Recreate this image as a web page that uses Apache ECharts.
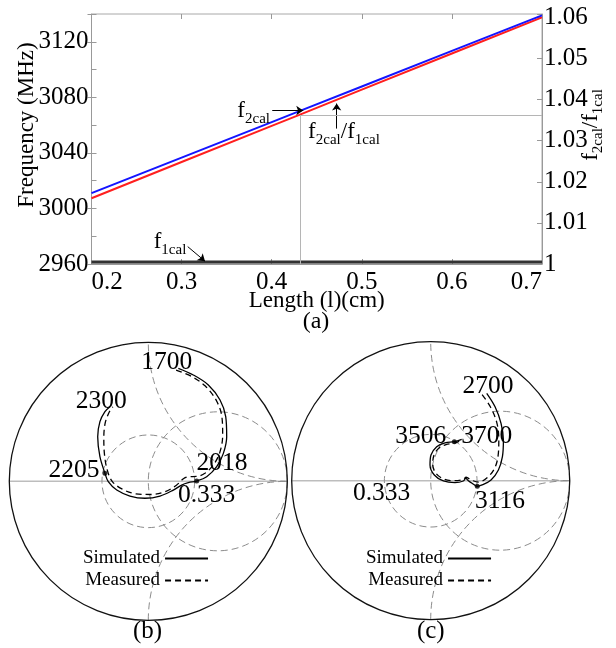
<!DOCTYPE html>
<html>
<head>
<meta charset="utf-8">
<script src="https://cdn.jsdelivr.net/npm/echarts@6/dist/echarts.min.js"></script>
<style>html,body{margin:0;padding:0;background:#fff}#c{width:616px;height:648px}</style>
</head>
<body>
<div id="c"></div>
<script>
// ---------- (a) data ----------
const lengthCm = [0.2, 0.3, 0.4, 0.43, 0.5, 0.6, 0.7];
const f2calMHz = [3011, 3036.6, 3062.2, 3069.9, 3087.8, 3113.4, 3139];
const ratioF2F1 = [1.0160, 1.0248, 1.0336, 1.0362, 1.0424, 1.0512, 1.0600];
const f1calMHz = [2961.5, 2961.5, 2961.5, 2961.5, 2961.5, 2961.5, 2961.5];
const refLength = 0.4314;
const refRatio = 1.0362;
const leftTicks = [2960, 3000, 3040, 3080, 3120];
const rightTicks = ['1', '1.01', '1.02', '1.03', '1.04', '1.05', '1.06'];

// ---------- (b) reflection coefficient (Re, Im) ----------
const simB = [[0.216,0.813],[0.324,0.765],[0.432,0.693],[0.516,0.585],[0.557,0.465],[0.564,0.321],[0.540,0.201],[0.492,0.105],[0.420,0.033],[0.348,0.002],[0.288,-0.010],[0.240,-0.027],[0.180,-0.063],[0.084,-0.106],[-0.024,-0.122],[-0.132,-0.106],[-0.227,-0.063],[-0.288,-0.003],[-0.312,0.058],[-0.348,0.177],[-0.364,0.321],[-0.348,0.429],[-0.312,0.501],[-0.276,0.537]];
const measB = [[0.200,0.800],[0.310,0.755],[0.410,0.685],[0.490,0.580],[0.530,0.460],[0.535,0.330],[0.515,0.210],[0.470,0.120],[0.410,0.060],[0.350,0.035],[0.290,0.033],[0.255,0.020],[0.200,-0.030],[0.120,-0.075],[0.020,-0.095],[-0.090,-0.090],[-0.190,-0.055],[-0.260,0.000],[-0.295,0.080],[-0.315,0.190],[-0.320,0.310],[-0.310,0.420],[-0.280,0.500],[-0.255,0.535]];
const dotsB = [[0.348,0.002],[-0.312,0.058]];
const labelsB = ['1700', '2300', '2205', '2018', '0.333'];

// ---------- (c) reflection coefficient (Re, Im) ----------
const simC = [[0.403,0.629],[0.463,0.532],[0.506,0.413],[0.523,0.293],[0.516,0.173],[0.487,0.077],[0.434,0.005],[0.370,-0.030],[0.335,-0.040],[0.300,-0.020],[0.271,0.000],[0.252,0.017],[0.235,-0.002],[0.175,-0.014],[0.091,-0.002],[0.026,0.041],[-0.005,0.113],[0.002,0.185],[0.043,0.245],[0.103,0.273],[0.170,0.281],[0.223,0.298]];
const measC = [[0.370,0.620],[0.430,0.530],[0.475,0.420],[0.490,0.300],[0.485,0.180],[0.460,0.090],[0.410,0.025],[0.345,-0.010],[0.290,0.005],[0.255,0.025],[0.235,0.010],[0.175,0.000],[0.100,0.010],[0.040,0.050],[0.015,0.115],[0.022,0.180],[0.060,0.235],[0.110,0.260],[0.165,0.270],[0.210,0.285]];
const dotsC = [[0.335,-0.040],[0.170,0.281]];
const labelsC = ['2700', '3506', '3700', '0.333', '3116'];

// Smith chart reference grid (constant-|Γ| 1/3 circle, r = 1 circle, x = ±1 arcs)
const smithGrid = [
  {kind: 'line', p: [[-1, 0], [1, 0]], st: 'axis'},
  {kind: 'circle', c: [0, 0], r: 1 / 3, st: 'dash'},
  {kind: 'circle', c: [0.5, 0], r: 0.5, st: 'dash'},
  {kind: 'arc', c: [1, 1], r: 1, a: [Math.PI / 2, Math.PI], st: 'dash'},
  {kind: 'arc', c: [1, -1], r: 1, a: [Math.PI, 1.5 * Math.PI], st: 'dash'},
  {kind: 'circle', c: [0, 0], r: 1, st: 'outer'}
];

const SERIF = '"Liberation Serif", "Times New Roman", serif';
const zip = (xs, ys) => xs.map((x, i) => [x, ys[i]]);

const subRich = {
  f: {fontSize: 23, fontFamily: SERIF, color: '#000', verticalAlign: 'bottom', padding: [0, 0, 4, 0]},
  s: {fontSize: 15, fontFamily: SERIF, color: '#000', verticalAlign: 'bottom'}
};

function renderSmithGrid(params, api) {
  const g = smithGrid[params.dataIndex];
  const styles = {
    outer: {stroke: '#111', lineWidth: 1.3, fill: 'none'},
    dash: {stroke: '#8c8c8c', lineWidth: 1, lineDash: [7, 4], fill: 'none'},
    axis: {stroke: '#bdbdbd', lineWidth: 1.5, fill: 'none'}
  };
  const style = styles[g.st];
  if (g.kind === 'line') {
    const a = api.coord(g.p[0]), b = api.coord(g.p[1]);
    return {type: 'line', shape: {x1: a[0], y1: a[1], x2: b[0], y2: b[1]}, style: style};
  }
  const c = api.coord(g.c);
  const r = api.size([g.r, g.r])[0];
  if (g.kind === 'circle') {
    return {type: 'circle', shape: {cx: c[0], cy: c[1], r: r}, style: style};
  }
  return {type: 'arc', shape: {cx: c[0], cy: c[1], r: r, startAngle: g.a[0], endAngle: g.a[1], clockwise: true}, style: style};
}

function textPoint(txt, coord) {
  return {coord: coord, value: txt, label: {formatter: txt}};
}

const freqLabelStyle = {show: true, position: 'inside', color: '#000', fontSize: 25.5, fontFamily: SERIF};
const legendBase = {data: ['Simulated', 'Measured'], orient: 'vertical', align: 'right', top: 549, padding: 0,
  itemWidth: 43, itemHeight: 1, itemGap: 3, selectedMode: false, itemStyle: {opacity: 0},
  textStyle: {color: '#000', fontSize: 19, fontFamily: SERIF, lineHeight: 19}};

const chart = echarts.init(document.getElementById('c'), null, {renderer: 'canvas'});
const option = {
  animation: false,
  backgroundColor: '#fff',
  textStyle: {fontFamily: SERIF},
  grid: [
    {left: 91.5, top: 14, width: 450.5, height: 250, show: true, borderColor: '#a8a8a8', borderWidth: 1, backgroundColor: 'transparent'},
    {left: 9.3, top: 342.3, width: 278, height: 278},
    {left: 291.7, top: 341.7, width: 278, height: 278}
  ],
  xAxis: [
    {gridIndex: 0, type: 'value', min: 0.2, max: 0.7, interval: 0.1,
      axisLine: {lineStyle: {color: '#999'}},
      axisTick: {inside: true, length: 5, lineStyle: {color: '#999'}},
      splitLine: {show: false},
      axisLabel: {color: '#000', fontSize: 25, fontFamily: SERIF, margin: 6, alignMinLabel: 'left', alignMaxLabel: 'right',
        formatter: v => v.toFixed(1)},
      name: 'Length (l)(cm)', nameLocation: 'middle', nameGap: 25, nameMoveOverlap: false,
      nameTextStyle: {color: '#000', fontSize: 23, fontFamily: SERIF}},
    {gridIndex: 0, type: 'value', position: 'top', min: 0.2, max: 0.7, interval: 0.1,
      axisLine: {show: false}, axisTick: {inside: true, length: 5, lineStyle: {color: '#999'}},
      axisLabel: {show: false}, splitLine: {show: false}},
    {gridIndex: 1, type: 'value', min: -1, max: 1, show: false},
    {gridIndex: 2, type: 'value', min: -1, max: 1, show: false}
  ],
  yAxis: [
    {gridIndex: 0, type: 'value', position: 'left', min: 2960, max: 3140, interval: 40,
      axisLine: {show: true, lineStyle: {color: '#999'}},
      axisTick: {inside: false, length: 4, lineStyle: {color: '#999'}},
      splitLine: {show: false},
      axisLabel: {color: '#000', fontSize: 25, fontFamily: SERIF, margin: 3,
        formatter: v => leftTicks.indexOf(Math.round(v)) >= 0 ? String(Math.round(v)) : ''},
      name: 'Frequency (MHz)', nameLocation: 'middle', nameRotate: 90, nameGap: 53, nameMoveOverlap: false,
      nameTextStyle: {color: '#000', fontSize: 23, fontFamily: SERIF, padding: [0, 0, 0, 28]}},
    {gridIndex: 0, type: 'value', position: 'right', min: 1, max: 3140 / 2960, interval: 0.01,
      axisLine: {show: true, lineStyle: {color: '#999'}},
      axisTick: {inside: true, length: 5, lineStyle: {color: '#999'}},
      splitLine: {show: false},
      axisLabel: {color: '#000', fontSize: 25, fontFamily: SERIF, margin: 2,
        formatter: v => { const s = String(parseFloat(v.toFixed(2))); return (v <= 1.0601 && rightTicks.indexOf(s) >= 0) ? s : ''; }},
      name: '{f|f}{s|2cal}{f|/f}{s|1cal}', nameLocation: 'middle', nameRotate: 90, nameGap: 37, nameMoveOverlap: false,
      nameTextStyle: {padding: [0, 0, 0, 28], rich: subRich}},
    {gridIndex: 0, type: 'value', position: 'left', min: 2960, max: 3140, interval: 20,
      axisLine: {show: false}, axisTick: {inside: true, length: 5, lineStyle: {color: '#999'}},
      axisLabel: {show: false}, splitLine: {show: false}},
    {gridIndex: 1, type: 'value', min: -1, max: 1, show: false},
    {gridIndex: 2, type: 'value', min: -1, max: 1, show: false}
  ],
  legend: [
    Object.assign({}, legendBase, {left: 83}),
    Object.assign({}, legendBase, {left: 366})
  ],
  series: [
    {name: 'f2cal', type: 'line', xAxisIndex: 0, yAxisIndex: 0, data: zip(lengthCm, f2calMHz),
      symbol: 'none', lineStyle: {color: '#1414ff', width: 2}, itemStyle: {color: '#1414ff'}, z: 4,
      markLine: {silent: true, symbol: ['none', 'arrow'], symbolSize: 7, label: {show: false},
        lineStyle: {color: '#000', width: 1, type: 'solid'},
        data: [
          [{coord: [0.4006, 3070.5]}, {coord: [0.4350, 3070.5]}],
          [{coord: [0.4721, 3057.5]}, {coord: [0.4721, 3075.5]}],
          [{coord: [0.3068, 2972.5]}, {coord: [0.3260, 2962]}]
        ]},
      markPoint: {silent: true, symbol: 'circle', symbolSize: 1, itemStyle: {color: 'rgba(0,0,0,0)'},
        label: {show: true, position: 'inside', rich: subRich},
        data: [
          {coord: [0.3800, 3069], label: {formatter: '{f|f}{s|2cal}'}},
          {coord: [0.4802, 3053.5], label: {formatter: '{f|f}{s|2cal}{f|/f}{s|1cal}'}},
          {coord: [0.2871, 2974.5], label: {formatter: '{f|f}{s|1cal}'}}
        ]}},
    {name: 'ratio', type: 'line', xAxisIndex: 0, yAxisIndex: 1, data: zip(lengthCm, ratioF2F1),
      symbol: 'none', lineStyle: {color: '#ff1f1f', width: 2}, itemStyle: {color: '#ff1f1f'}, z: 3,
      markLine: {silent: true, symbol: ['none', 'none'], label: {show: false},
        lineStyle: {color: '#b5b5b5', width: 1, type: 'solid'},
        data: [
          [{coord: [refLength, 1]}, {coord: [refLength, refRatio]}],
          [{coord: [refLength, refRatio]}, {coord: [0.7, refRatio]}]
        ]}},
    {name: 'f1cal', type: 'line', xAxisIndex: 0, yAxisIndex: 0, data: zip(lengthCm, f1calMHz),
      symbol: 'none', lineStyle: {color: '#333', width: 3}, z: 3},

    // (b)
    {type: 'custom', xAxisIndex: 2, yAxisIndex: 3, renderItem: renderSmithGrid, clip: false, silent: true,
      data: smithGrid.map(() => [0, 0]), z: 1},
    {name: 'Simulated', type: 'line', xAxisIndex: 2, yAxisIndex: 3, data: simB, smooth: 0.35, symbol: 'none',
      lineStyle: {color: '#000', width: 1.3}, itemStyle: {color: '#000'}, z: 3,
      markPoint: {silent: true, symbol: 'circle', symbolSize: 1, itemStyle: {color: 'rgba(0,0,0,0)'}, label: freqLabelStyle,
        data: [
          textPoint(labelsB[0], [0.132, 0.853]),
          textPoint(labelsB[1], [-0.338, 0.573]),
          textPoint(labelsB[2], [-0.535, 0.076]),
          textPoint(labelsB[3], [0.530, 0.129]),
          textPoint(labelsB[4], [0.420, -0.104])
        ]}},
    {name: 'Measured', type: 'line', xAxisIndex: 2, yAxisIndex: 3, data: measB, smooth: 0.35, symbol: 'none',
      lineStyle: {color: '#000', width: 1.3, type: [6, 4]}, itemStyle: {color: '#000'}, z: 3},
    {type: 'scatter', xAxisIndex: 2, yAxisIndex: 3, data: dotsB, symbolSize: 5, itemStyle: {color: '#000'}, z: 4, silent: true},

    // (c)
    {type: 'custom', xAxisIndex: 3, yAxisIndex: 4, renderItem: renderSmithGrid, clip: false, silent: true,
      data: smithGrid.map(() => [0, 0]), z: 1},
    {name: 'Simulated', type: 'line', xAxisIndex: 3, yAxisIndex: 4, data: simC, smooth: 0.35, symbol: 'none',
      lineStyle: {color: '#000', width: 1.3}, itemStyle: {color: '#000'}, z: 3,
      markPoint: {silent: true, symbol: 'circle', symbolSize: 1, itemStyle: {color: 'rgba(0,0,0,0)'}, label: freqLabelStyle,
        data: [
          textPoint(labelsC[0], [0.412, 0.676]),
          textPoint(labelsC[1], [-0.071, 0.322]),
          textPoint(labelsC[2], [0.403, 0.322]),
          textPoint(labelsC[3], [-0.353, -0.091]),
          textPoint(labelsC[4], [0.499, -0.151])
        ]}},
    {name: 'Measured', type: 'line', xAxisIndex: 3, yAxisIndex: 4, data: measC, smooth: 0.35, symbol: 'none',
      lineStyle: {color: '#000', width: 1.3, type: [6, 4]}, itemStyle: {color: '#000'}, z: 3},
    {type: 'scatter', xAxisIndex: 3, yAxisIndex: 4, data: dotsC, symbolSize: 5, itemStyle: {color: '#000'}, z: 4, silent: true}
  ],
  graphic: [
    {type: 'text', x: 316, y: 322, style: {text: '(a)', font: '24px "Liberation Serif"', fill: '#000', textAlign: 'center', textVerticalAlign: 'middle'}},
    {type: 'text', x: 147.5, y: 631, style: {text: '(b)', font: '25px "Liberation Serif"', fill: '#000', textAlign: 'center', textVerticalAlign: 'middle'}},
    {type: 'text', x: 430.8, y: 631, style: {text: '(c)', font: '25px "Liberation Serif"', fill: '#000', textAlign: 'center', textVerticalAlign: 'middle'}}
  ]
};
chart.setOption(option);
</script>
</body>
</html>
